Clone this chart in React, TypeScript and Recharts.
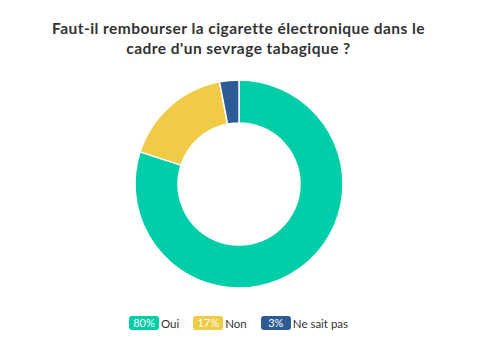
import React from "react";
import { PieChart, Pie, Cell, Legend } from "recharts";

const categories = ["Oui", "Non", "Ne sait pas"];
const values = [80, 17, 3];
const colors = ["#00CEA8", "#EFCB46", "#2D5B95"];
const title = ["Faut-il rembourser la cigarette électronique dans le", "cadre d'un sevrage tabagique ?"];

const data = categories.map((name, i) => ({ name, value: values[i] }));

const renderLegend = () => (
  <div style={{ display: "flex", justifyContent: "center", alignItems: "center", fontFamily: "Lato, sans-serif", color: "#333" }}>
    {data.map((d, i) => (
      <div key={d.name} style={{ display: "flex", alignItems: "center", marginRight: i < data.length - 1 ? 14 : 0 }}>
        <span style={{ background: colors[i], color: "#fff", borderRadius: 3, width: 30, height: 14, lineHeight: "14px", fontSize: 11, textAlign: "center", marginRight: 2, display: "inline-block" }}>
          {d.value}%
        </span>
        <span style={{ fontSize: 11.5 }}>{d.name}</span>
      </div>
    ))}
  </div>
);

export default function App() {
  return (
    <div style={{ position: "fixed", left: 0, top: 0, width: 477, height: 364, background: "#fff" }}>
      <div style={{ position: "absolute", top: 19, left: 0, width: 477, textAlign: "center", fontFamily: "Lato, sans-serif", fontWeight: 700, fontSize: 15.5, lineHeight: "19.5px", color: "#333", letterSpacing: 0.45 }}>
        {title[0]}
        <br />
        {title[1]}
      </div>
      <PieChart width={477} height={364} margin={{ top: 0, right: 0, bottom: 0, left: 0 }}>
        <Pie
          data={data}
          dataKey="value"
          nameKey="name"
          cx={239}
          cy={184}
          innerRadius={61}
          outerRadius={104}
          startAngle={90}
          endAngle={-270}
          stroke="#fff"
          strokeWidth={1.5}
          isAnimationActive={false}
        >
          {data.map((d, i) => (
            <Cell key={d.name} fill={colors[i]} />
          ))}
        </Pie>
        <Legend content={renderLegend} verticalAlign="bottom" wrapperStyle={{ bottom: 34, left: 0, width: 477 }} />
      </PieChart>
    </div>
  );
}
